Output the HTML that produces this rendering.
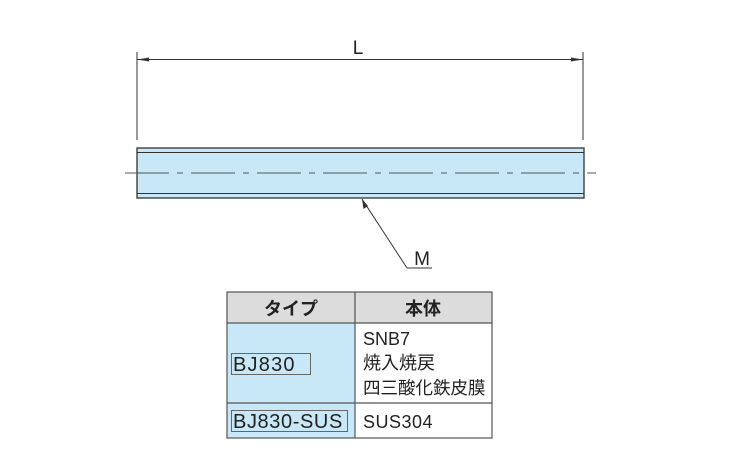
<!DOCTYPE html>
<html><head><meta charset="utf-8"><style>
body{margin:0;background:#fff;width:750px;height:450px;overflow:hidden;font-family:"Liberation Sans","Noto Sans CJK JP",sans-serif;}
</style></head><body>
<svg width="750" height="450" xmlns="http://www.w3.org/2000/svg" style="position:absolute;left:0;top:0">
<g stroke="#333" stroke-width="1" fill="none">
<line x1="137" y1="52" x2="137" y2="140"/>
<line x1="583" y1="52" x2="583" y2="140"/>
<line x1="137" y1="59.5" x2="583" y2="59.5"/>
</g>
<polygon points="137,59.5 149,57.5 149,61.5" fill="#333"/>
<polygon points="583,59.5 571,57.5 571,61.5" fill="#333"/>
<text x="358" y="54" font-size="19" fill="#222" text-anchor="middle" font-family="Liberation Sans">L</text>
<rect x="137" y="148" width="447" height="50" fill="#c8e8f8" stroke="#333" stroke-width="1.3"/>
<line x1="137" y1="152.5" x2="584" y2="152.5" stroke="#333" stroke-width="1"/>
<line x1="137" y1="193.5" x2="584" y2="193.5" stroke="#333" stroke-width="1"/>
<line x1="125" y1="173" x2="596" y2="173" stroke="#555" stroke-width="1" stroke-dasharray="44,8,6,8"/>
<line x1="362" y1="199" x2="407" y2="268" stroke="#333" stroke-width="1"/>
<line x1="407" y1="268" x2="432" y2="268" stroke="#333" stroke-width="1"/>
<polygon points="362,199 363.5,209 368,206" fill="#333"/>
<text x="422" y="265" font-size="19" fill="#222" text-anchor="middle" font-family="Liberation Sans">M</text>
<rect x="227" y="292" width="128" height="31" fill="#dcdcdc"/>
<rect x="355" y="292" width="137" height="31" fill="#dcdcdc"/>
<rect x="227" y="323" width="128" height="115" fill="#c8e8f8"/>
<g stroke="#555" stroke-width="1.2" fill="none">
<rect x="227" y="292" width="265" height="146"/>
<line x1="355" y1="292" x2="355" y2="438"/>
<line x1="227" y1="323" x2="492" y2="323"/>
<line x1="227" y1="403" x2="492" y2="403"/>
</g>
<rect x="231.5" y="353.5" width="79" height="21" fill="none" stroke="#666" stroke-width="1"/>
<rect x="231.5" y="410.5" width="116" height="21" fill="none" stroke="#666" stroke-width="1"/>
<g fill="#222" font-family="Liberation Sans, Noto Sans CJK JP, sans-serif">
<text x="291" y="315" font-size="18" text-anchor="middle" font-weight="bold">タイプ</text>
<text x="423" y="315" font-size="18" text-anchor="middle" font-weight="bold">本体</text>
<text x="233" y="371" font-size="20" letter-spacing="1.2">BJ830</text>
<text x="233" y="428" font-size="20" letter-spacing="0.6">BJ830-SUS</text>
<text x="363" y="345" font-size="18">SNB7</text>
<text x="363" y="369" font-size="18">焼入焼戻</text>
<text x="363" y="394" font-size="17.5">四三酸化鉄皮膜</text>
<text x="363" y="428" font-size="18" letter-spacing="0.5">SUS304</text>
</g>
</svg>
</body></html>
